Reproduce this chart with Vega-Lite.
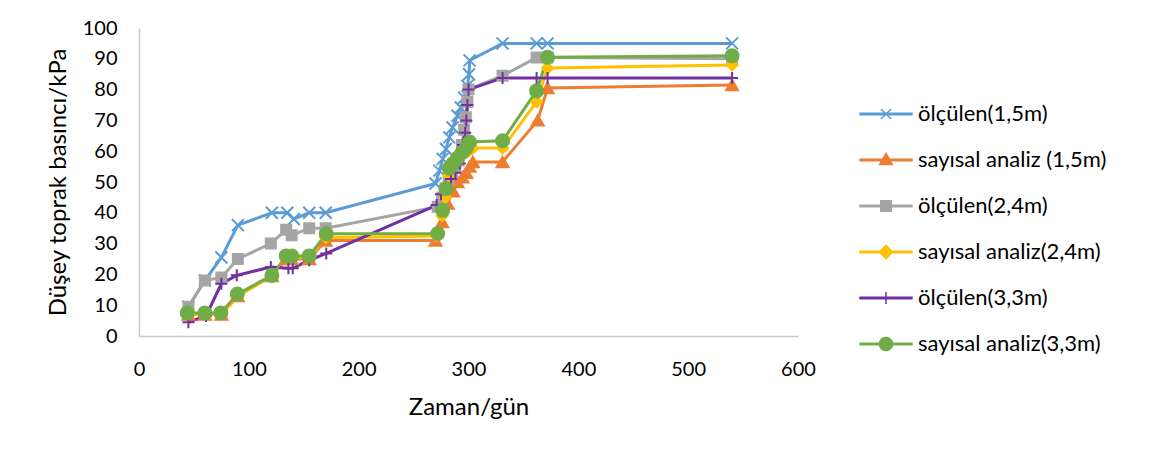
{
  "$schema": "https://vega.github.io/schema/vega-lite/v6.json",
  "width": 659,
  "height": 308,
  "autosize": "none",
  "padding": {"left": 139, "top": 28, "right": 352, "bottom": 123},
  "background": "white",
  "config": {
    "view": {"stroke": null},
    "font": "Lato",
    "axis": {"grid": false, "ticks": false, "domainColor": "#C8C8C8", "domainWidth": 1.5, "labelFont": "Lato", "labelFontSize": 20, "labelColor": "#000000", "titleFont": "Lato", "titleFontSize": 24, "titleFontWeight": "normal", "titleColor": "#000000"},
    "legend": {"orient": "none", "legendX": 724, "legendY": 63, "symbolSize": 1936, "symbolStrokeWidth": 1.5, "symbolOpacity": 1,
      "labelFont": "Lato", "labelFontSize": 22, "labelColor": "#000000", "labelOffset": 9, "labelLimit": 400, "rowPadding": 0}
  },
  "data": {"values": [
    {"s": "ölçülen(1,5m)", "t": 45, "p": 9.5},
    {"s": "ölçülen(1,5m)", "t": 60, "p": 18},
    {"s": "ölçülen(1,5m)", "t": 75, "p": 25.5},
    {"s": "ölçülen(1,5m)", "t": 90, "p": 36},
    {"s": "ölçülen(1,5m)", "t": 121, "p": 40},
    {"s": "ölçülen(1,5m)", "t": 135, "p": 40},
    {"s": "ölçülen(1,5m)", "t": 141, "p": 38},
    {"s": "ölçülen(1,5m)", "t": 155, "p": 40},
    {"s": "ölçülen(1,5m)", "t": 170, "p": 40},
    {"s": "ölçülen(1,5m)", "t": 270, "p": 49.5},
    {"s": "ölçülen(1,5m)", "t": 273.5, "p": 53.7},
    {"s": "ölçülen(1,5m)", "t": 276.5, "p": 57.5},
    {"s": "ölçülen(1,5m)", "t": 279.5, "p": 60.7},
    {"s": "ölçülen(1,5m)", "t": 282.5, "p": 64.5},
    {"s": "ölçülen(1,5m)", "t": 285.5, "p": 67.7},
    {"s": "ölçülen(1,5m)", "t": 290, "p": 71.5},
    {"s": "ölçülen(1,5m)", "t": 293, "p": 74.2},
    {"s": "ölçülen(1,5m)", "t": 296, "p": 77.4},
    {"s": "ölçülen(1,5m)", "t": 299, "p": 81.2},
    {"s": "ölçülen(1,5m)", "t": 300.5, "p": 85},
    {"s": "ölçülen(1,5m)", "t": 301, "p": 89.5},
    {"s": "ölçülen(1,5m)", "t": 331, "p": 95},
    {"s": "ölçülen(1,5m)", "t": 362, "p": 95},
    {"s": "ölçülen(1,5m)", "t": 372, "p": 95},
    {"s": "ölçülen(1,5m)", "t": 540, "p": 95},

    {"s": "sayısal analiz (1,5m)", "t": 45, "p": 7},
    {"s": "sayısal analiz (1,5m)", "t": 60, "p": 7},
    {"s": "sayısal analiz (1,5m)", "t": 75, "p": 7},
    {"s": "sayısal analiz (1,5m)", "t": 90, "p": 13},
    {"s": "sayısal analiz (1,5m)", "t": 121, "p": 19.5},
    {"s": "sayısal analiz (1,5m)", "t": 134, "p": 25},
    {"s": "sayısal analiz (1,5m)", "t": 139, "p": 25},
    {"s": "sayısal analiz (1,5m)", "t": 155, "p": 25},
    {"s": "sayısal analiz (1,5m)", "t": 170, "p": 31},
    {"s": "sayısal analiz (1,5m)", "t": 270, "p": 31},
    {"s": "sayısal analiz (1,5m)", "t": 276, "p": 37},
    {"s": "sayısal analiz (1,5m)", "t": 281, "p": 43},
    {"s": "sayısal analiz (1,5m)", "t": 286, "p": 47},
    {"s": "sayısal analiz (1,5m)", "t": 290, "p": 50},
    {"s": "sayısal analiz (1,5m)", "t": 294.5, "p": 51.5},
    {"s": "sayısal analiz (1,5m)", "t": 298, "p": 53},
    {"s": "sayısal analiz (1,5m)", "t": 301, "p": 55},
    {"s": "sayısal analiz (1,5m)", "t": 304, "p": 56.5},
    {"s": "sayısal analiz (1,5m)", "t": 331, "p": 56.5},
    {"s": "sayısal analiz (1,5m)", "t": 363, "p": 70},
    {"s": "sayısal analiz (1,5m)", "t": 372, "p": 80.5},
    {"s": "sayısal analiz (1,5m)", "t": 540, "p": 81.5},

    {"s": "ölçülen(2,4m)", "t": 45, "p": 9.5},
    {"s": "ölçülen(2,4m)", "t": 60, "p": 18},
    {"s": "ölçülen(2,4m)", "t": 75, "p": 19},
    {"s": "ölçülen(2,4m)", "t": 90, "p": 25},
    {"s": "ölçülen(2,4m)", "t": 120, "p": 30},
    {"s": "ölçülen(2,4m)", "t": 134, "p": 34.5},
    {"s": "ölçülen(2,4m)", "t": 139, "p": 32.7},
    {"s": "ölçülen(2,4m)", "t": 155, "p": 35},
    {"s": "ölçülen(2,4m)", "t": 170, "p": 35},
    {"s": "ölçülen(2,4m)", "t": 272, "p": 42},
    {"s": "ölçülen(2,4m)", "t": 276, "p": 45},
    {"s": "ölçülen(2,4m)", "t": 279, "p": 48},
    {"s": "ölçülen(2,4m)", "t": 282, "p": 51},
    {"s": "ölçülen(2,4m)", "t": 285, "p": 53},
    {"s": "ölçülen(2,4m)", "t": 288, "p": 55},
    {"s": "ölçülen(2,4m)", "t": 291, "p": 57},
    {"s": "ölçülen(2,4m)", "t": 294, "p": 62},
    {"s": "ölçülen(2,4m)", "t": 296, "p": 67},
    {"s": "ölçülen(2,4m)", "t": 297.5, "p": 71},
    {"s": "ölçülen(2,4m)", "t": 299, "p": 76},
    {"s": "ölçülen(2,4m)", "t": 300, "p": 80},
    {"s": "ölçülen(2,4m)", "t": 331, "p": 84.5},
    {"s": "ölçülen(2,4m)", "t": 362, "p": 90.4},
    {"s": "ölçülen(2,4m)", "t": 372, "p": 90.4},
    {"s": "ölçülen(2,4m)", "t": 540, "p": 90},

    {"s": "sayısal analiz(2,4m)", "t": 45, "p": 7},
    {"s": "sayısal analiz(2,4m)", "t": 60, "p": 7},
    {"s": "sayısal analiz(2,4m)", "t": 75, "p": 7},
    {"s": "sayısal analiz(2,4m)", "t": 90, "p": 13},
    {"s": "sayısal analiz(2,4m)", "t": 121, "p": 19.5},
    {"s": "sayısal analiz(2,4m)", "t": 134, "p": 25.5},
    {"s": "sayısal analiz(2,4m)", "t": 139, "p": 25.5},
    {"s": "sayısal analiz(2,4m)", "t": 155, "p": 25.5},
    {"s": "sayısal analiz(2,4m)", "t": 170, "p": 32},
    {"s": "sayısal analiz(2,4m)", "t": 271, "p": 32.5},
    {"s": "sayısal analiz(2,4m)", "t": 276, "p": 39},
    {"s": "sayısal analiz(2,4m)", "t": 279, "p": 45},
    {"s": "sayısal analiz(2,4m)", "t": 282, "p": 52},
    {"s": "sayısal analiz(2,4m)", "t": 286, "p": 55},
    {"s": "sayısal analiz(2,4m)", "t": 290, "p": 57},
    {"s": "sayısal analiz(2,4m)", "t": 295, "p": 59},
    {"s": "sayısal analiz(2,4m)", "t": 300, "p": 60},
    {"s": "sayısal analiz(2,4m)", "t": 304, "p": 61},
    {"s": "sayısal analiz(2,4m)", "t": 331, "p": 61},
    {"s": "sayısal analiz(2,4m)", "t": 362, "p": 76},
    {"s": "sayısal analiz(2,4m)", "t": 372, "p": 87},
    {"s": "sayısal analiz(2,4m)", "t": 540, "p": 88},

    {"s": "ölçülen(3,3m)", "t": 45, "p": 4.5},
    {"s": "ölçülen(3,3m)", "t": 61, "p": 6.5},
    {"s": "ölçülen(3,3m)", "t": 75, "p": 17},
    {"s": "ölçülen(3,3m)", "t": 89, "p": 19.7},
    {"s": "ölçülen(3,3m)", "t": 120, "p": 22.4},
    {"s": "ölçülen(3,3m)", "t": 136, "p": 22},
    {"s": "ölçülen(3,3m)", "t": 140, "p": 22},
    {"s": "ölçülen(3,3m)", "t": 155, "p": 24.6},
    {"s": "ölçülen(3,3m)", "t": 170.5, "p": 26.8},
    {"s": "ölçülen(3,3m)", "t": 271, "p": 42.5},
    {"s": "ölçülen(3,3m)", "t": 275, "p": 46},
    {"s": "ölçülen(3,3m)", "t": 279, "p": 48.5},
    {"s": "ölçülen(3,3m)", "t": 284, "p": 51},
    {"s": "ölçülen(3,3m)", "t": 288, "p": 53},
    {"s": "ölçülen(3,3m)", "t": 292, "p": 56},
    {"s": "ölçülen(3,3m)", "t": 295, "p": 62},
    {"s": "ölçülen(3,3m)", "t": 297, "p": 66},
    {"s": "ölçülen(3,3m)", "t": 298, "p": 70},
    {"s": "ölçülen(3,3m)", "t": 299, "p": 75},
    {"s": "ölçülen(3,3m)", "t": 300, "p": 80},
    {"s": "ölçülen(3,3m)", "t": 331, "p": 83.8},
    {"s": "ölçülen(3,3m)", "t": 362, "p": 83.8},
    {"s": "ölçülen(3,3m)", "t": 372, "p": 83.8},
    {"s": "ölçülen(3,3m)", "t": 540, "p": 83.8},

    {"s": "sayısal analiz(3,3m)", "t": 44, "p": 7.5},
    {"s": "sayısal analiz(3,3m)", "t": 60, "p": 7.5},
    {"s": "sayısal analiz(3,3m)", "t": 74.5, "p": 7.5},
    {"s": "sayısal analiz(3,3m)", "t": 89.5, "p": 13.6},
    {"s": "sayısal analiz(3,3m)", "t": 121, "p": 19.7},
    {"s": "sayısal analiz(3,3m)", "t": 134, "p": 26},
    {"s": "sayısal analiz(3,3m)", "t": 139, "p": 26},
    {"s": "sayısal analiz(3,3m)", "t": 155, "p": 26},
    {"s": "sayısal analiz(3,3m)", "t": 170.5, "p": 33.2},
    {"s": "sayısal analiz(3,3m)", "t": 272, "p": 33.3},
    {"s": "sayısal analiz(3,3m)", "t": 276.5, "p": 40.8},
    {"s": "sayısal analiz(3,3m)", "t": 279.5, "p": 47.8},
    {"s": "sayısal analiz(3,3m)", "t": 282.5, "p": 54.5},
    {"s": "sayısal analiz(3,3m)", "t": 286, "p": 56},
    {"s": "sayısal analiz(3,3m)", "t": 290, "p": 57.8},
    {"s": "sayısal analiz(3,3m)", "t": 294, "p": 59.5},
    {"s": "sayısal analiz(3,3m)", "t": 298, "p": 61},
    {"s": "sayısal analiz(3,3m)", "t": 301, "p": 63},
    {"s": "sayısal analiz(3,3m)", "t": 331, "p": 63.4},
    {"s": "sayısal analiz(3,3m)", "t": 362, "p": 79.6},
    {"s": "sayısal analiz(3,3m)", "t": 372, "p": 90.5},
    {"s": "sayısal analiz(3,3m)", "t": 540, "p": 91}
  ]},
  "encoding": {
    "x": {"field": "t", "type": "quantitative", "title": "Zaman/gün",
      "scale": {"domain": [0, 600], "nice": false},
      "axis": {"values": [0, 100, 200, 300, 400, 500, 600], "labelFlush": false, "labelPadding": 23, "titleY": 78, "titleBaseline": "alphabetic"}},
    "y": {"field": "p", "type": "quantitative", "title": "Düşey toprak basıncı/kPa",
      "scale": {"domain": [0, 100], "nice": false},
      "axis": {"values": [0, 10, 20, 30, 40, 50, 60, 70, 80, 90, 100], "labelPadding": 22, "titleX": -74, "titleY": 154, "titleBaseline": "alphabetic", "titleAngle": -90, "titleAlign": "center"}}
  },
  "resolve": {"scale": {"color": "independent", "stroke": "independent", "shape": "independent", "size": "independent"}},
  "layer": [
    {
      "mark": {"type": "line", "strokeWidth": 3},
      "encoding": {
        "color": {"field": "s", "type": "nominal", "legend": null,
          "scale": {"domain": ["ölçülen(1,5m)", "sayısal analiz (1,5m)", "ölçülen(2,4m)", "sayısal analiz(2,4m)", "ölçülen(3,3m)", "sayısal analiz(3,3m)"],
                    "range": ["#5B9BD5", "#ED7D31", "#A5A5A5", "#FFC000", "#7030A0", "#70AD47"]}}
      }
    },
    {
      "mark": {"type": "point", "filled": true, "opacity": 1, "strokeWidth": 2},
      "encoding": {
        "color": {"field": "s", "type": "nominal", "legend": null,
          "scale": {"domain": ["ölçülen(1,5m)", "sayısal analiz (1,5m)", "ölçülen(2,4m)", "sayısal analiz(2,4m)", "ölçülen(3,3m)", "sayısal analiz(3,3m)"],
                    "range": ["#5B9BD5", "#ED7D31", "#A5A5A5", "#FFC000", "#7030A0", "#70AD47"]}},
        "stroke": {"field": "s", "type": "nominal", "legend": null,
          "scale": {"domain": ["ölçülen(1,5m)", "sayısal analiz (1,5m)", "ölçülen(2,4m)", "sayısal analiz(2,4m)", "ölçülen(3,3m)", "sayısal analiz(3,3m)"],
                    "range": ["#5B9BD5", "#ED7D31", "#A5A5A5", "#FFC000", "#7030A0", "#70AD47"]}},
        "shape": {"field": "s", "type": "nominal", "legend": null,
          "scale": {"domain": ["ölçülen(1,5m)", "sayısal analiz (1,5m)", "ölçülen(2,4m)", "sayısal analiz(2,4m)", "ölçülen(3,3m)", "sayısal analiz(3,3m)"],
                    "range": ["M-1,-1L1,1M-1,1L1,-1", "triangle-up", "square", "diamond", "M-1,0L1,0M0,-1L0,1", "circle"]}},
        "size": {"field": "s", "type": "nominal", "legend": null,
          "scale": {"type": "ordinal", "domain": ["ölçülen(1,5m)", "sayısal analiz (1,5m)", "ölçülen(2,4m)", "sayısal analiz(2,4m)", "ölçülen(3,3m)", "sayısal analiz(3,3m)"],
                    "range": [144, 144, 100, 121, 144, 169]}}
      }
    },
    {
      "mark": {"type": "point", "filled": true, "opacity": 0},
      "encoding": {
        "color": {"field": "s", "type": "nominal", "legend": {"title": null},
          "scale": {"domain": ["ölçülen(1,5m)", "sayısal analiz (1,5m)", "ölçülen(2,4m)", "sayısal analiz(2,4m)", "ölçülen(3,3m)", "sayısal analiz(3,3m)"],
                    "range": ["#5B9BD5", "#ED7D31", "#A5A5A5", "#FFC000", "#7030A0", "#70AD47"]}},
        "stroke": {"field": "s", "type": "nominal", "legend": {"title": null},
          "scale": {"domain": ["ölçülen(1,5m)", "sayısal analiz (1,5m)", "ölçülen(2,4m)", "sayısal analiz(2,4m)", "ölçülen(3,3m)", "sayısal analiz(3,3m)"],
                    "range": ["#5B9BD5", "#ED7D31", "#A5A5A5", "#FFC000", "#7030A0", "#70AD47"]}},
        "shape": {"field": "s", "type": "nominal", "legend": {"title": null},
          "scale": {"domain": ["ölçülen(1,5m)", "sayısal analiz (1,5m)", "ölçülen(2,4m)", "sayısal analiz(2,4m)", "ölçülen(3,3m)", "sayısal analiz(3,3m)"],
                    "range": [
                      "M-1.18,-0.9M1.18,0.9M-1.18,-0.03L1.18,-0.03L1.18,0.03L-1.18,0.03Z M-0.23,-0.23L0.23,0.23M-0.23,0.23L0.23,-0.23",
                      "M-1.18,-0.9M1.18,0.9M-1.18,-0.03L1.18,-0.03L1.18,0.03L-1.18,0.03Z M0,-0.3L0.29,0.2L-0.29,0.2Z",
                      "M-1.18,-0.9M1.18,0.9M-1.18,-0.03L1.18,-0.03L1.18,0.03L-1.18,0.03Z M-0.24,-0.24L0.24,-0.24L0.24,0.24L-0.24,0.24Z",
                      "M-1.18,-0.9M1.18,0.9M-1.18,-0.03L1.18,-0.03L1.18,0.03L-1.18,0.03Z M0,-0.3L0.3,0L0,0.3L-0.3,0Z",
                      "M-1.18,-0.9M1.18,0.9M-1.18,-0.03L1.18,-0.03L1.18,0.03L-1.18,0.03Z M0,-0.27L0,0.27",
                      "M-1.18,-0.9M1.18,0.9M-1.18,-0.03L1.18,-0.03L1.18,0.03L-1.18,0.03Z M0.3,0A0.3,0.3 0 1,1 -0.3,0A0.3,0.3 0 1,1 0.3,0Z"
                    ]}}
      }
    }
  ]
}
